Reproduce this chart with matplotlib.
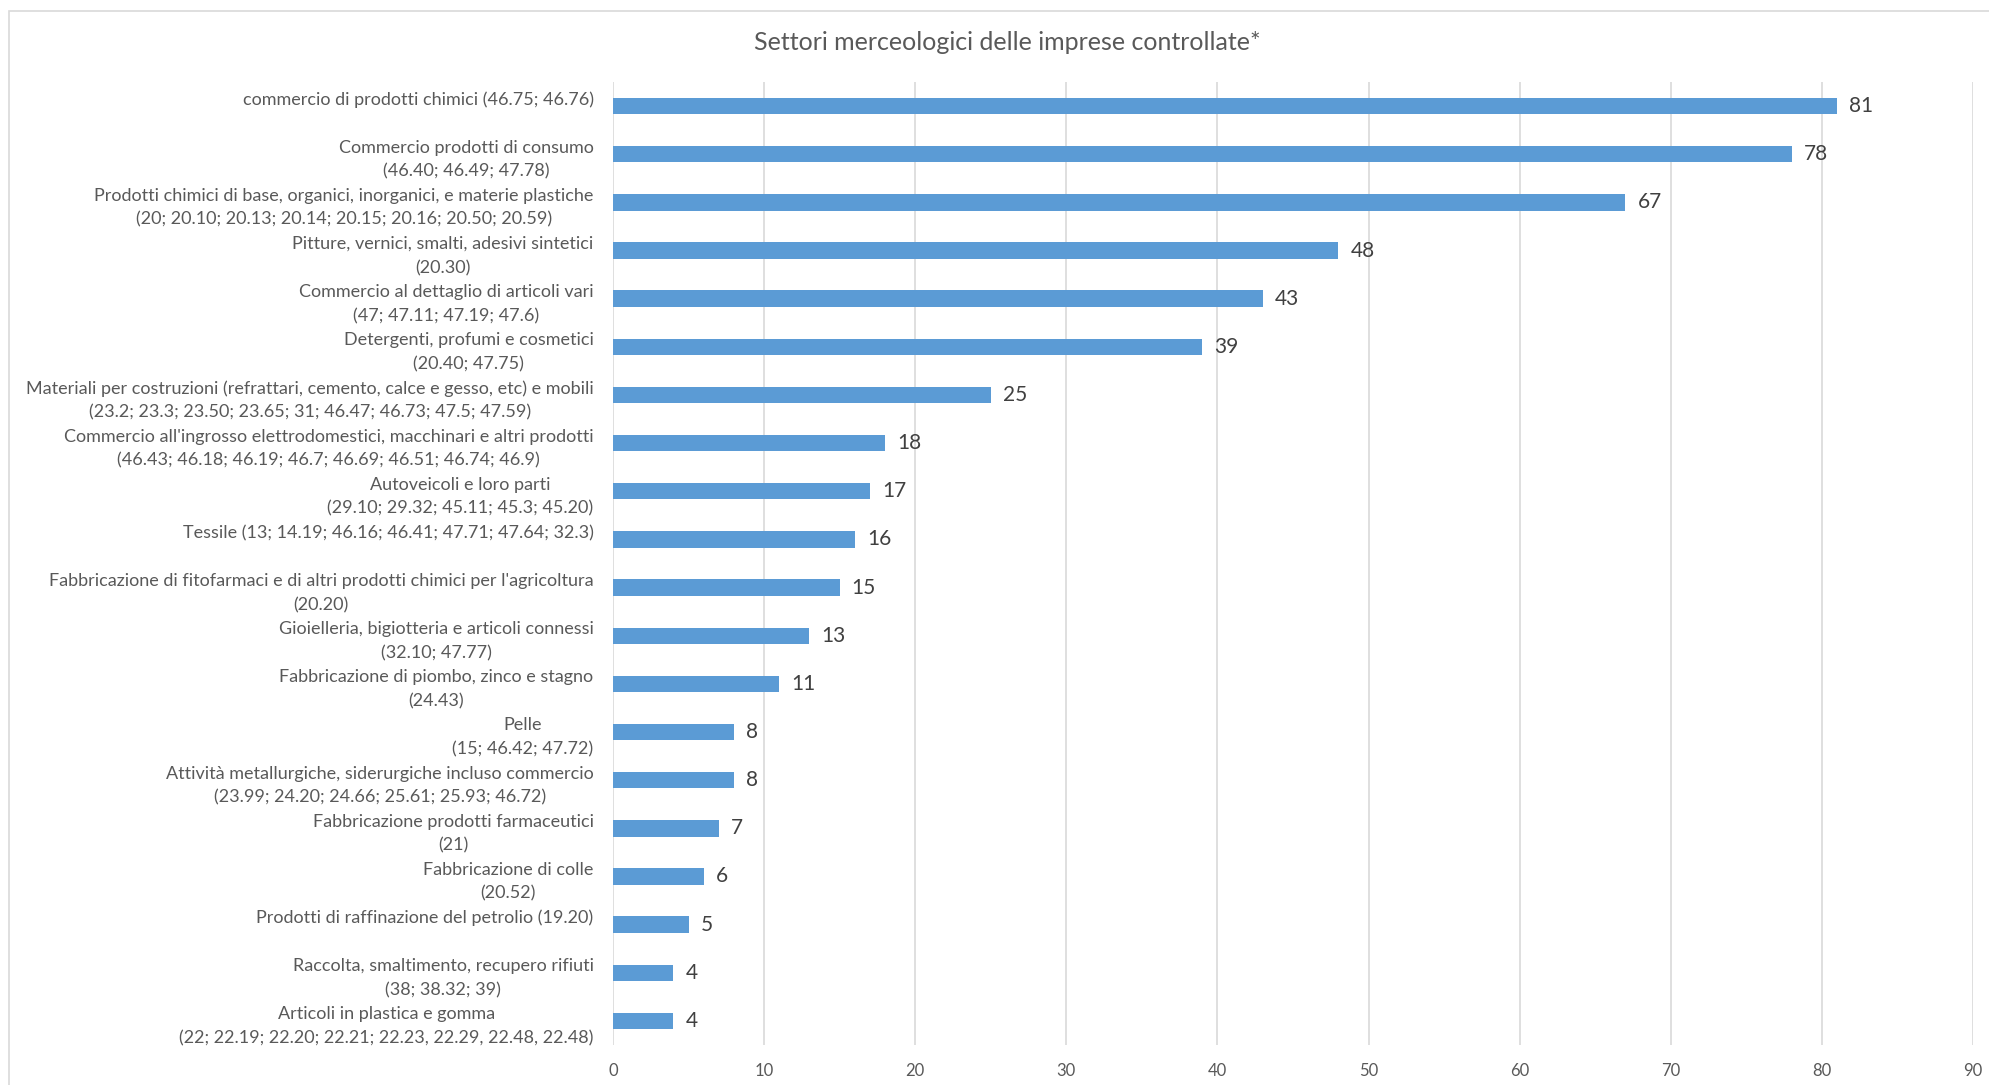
import matplotlib.pyplot as plt
from matplotlib.patches import Rectangle

plt.rcParams['font.family'] = ['Lato', 'DejaVu Sans']

categories = [
    "commercio di prodotti chimici (46.75; 46.76)\n ",
    "Commercio prodotti di consumo\n(46.40; 46.49; 47.78)",
    "Prodotti chimici di base, organici, inorganici, e materie plastiche\n(20; 20.10; 20.13; 20.14; 20.15; 20.16; 20.50; 20.59)",
    "Pitture, vernici, smalti, adesivi sintetici\n(20.30)",
    "Commercio al dettaglio di articoli vari\n(47; 47.11; 47.19; 47.6)",
    "Detergenti, profumi e cosmetici\n(20.40; 47.75)",
    "Materiali per costruzioni (refrattari, cemento, calce e gesso, etc) e mobili\n(23.2; 23.3; 23.50; 23.65; 31; 46.47; 46.73; 47.5; 47.59)",
    "Commercio all'ingrosso elettrodomestici, macchinari e altri prodotti\n(46.43; 46.18; 46.19; 46.7; 46.69; 46.51; 46.74; 46.9)",
    "Autoveicoli e loro parti\n(29.10; 29.32; 45.11; 45.3; 45.20)",
    "Tessile (13; 14.19; 46.16; 46.41; 47.71; 47.64; 32.3)\n ",
    "Fabbricazione di fitofarmaci e di altri prodotti chimici per l'agricoltura\n(20.20)",
    "Gioielleria, bigiotteria e articoli connessi\n(32.10; 47.77)",
    "Fabbricazione di piombo, zinco e stagno\n(24.43)",
    "Pelle\n(15; 46.42; 47.72)",
    "Attività metallurgiche, siderurgiche incluso commercio\n(23.99; 24.20; 24.66; 25.61; 25.93; 46.72)",
    "Fabbricazione prodotti farmaceutici\n(21)",
    "Fabbricazione di colle\n(20.52)",
    "Prodotti di raffinazione del petrolio (19.20)\n ",
    "Raccolta, smaltimento, recupero rifiuti\n(38; 38.32; 39)",
    "Articoli in plastica e gomma\n(22; 22.19; 22.20; 22.21; 22.23, 22.29, 22.48, 22.48)",
]
values = [81, 78, 67, 48, 43, 39, 25, 18, 17, 16, 15, 13, 11, 8, 8, 7, 6, 5, 4, 4]
xticks = [0, 10, 20, 30, 40, 50, 60, 70, 80, 90]

bar_color = '#5B9BD5'
text_gray = '#595959'

fig = plt.figure(figsize=(19.9, 10.85), dpi=100)
ax = fig.add_axes([613/1990, 1 - 1045/1085, (1973 - 613)/1990, (1045 - 82)/1085])

# outer chart frame
fig.patches.append(Rectangle((9/1990, -0.05), 1.1, 1 - 11/1085 + 0.05,
                             transform=fig.transFigure, fill=False,
                             edgecolor='#D9D9D9', lw=1.2))

pos = list(range(len(values)))
ax.barh(pos, values, height=0.34, color=bar_color, zorder=3)
for p, v in zip(pos, values):
    ax.text(v + 0.8, p, str(v), va='center', ha='left', fontsize=15,
            color='#404040')

ax.set_yticks(pos)
ax.set_yticklabels(categories, fontsize=13, color=text_gray,
                   multialignment='center', linespacing=1.6)
ax.set_ylim(len(values) - 0.5, -0.5)
ax.set_xlim(0, 90)
ax.set_xticks(xticks)
ax.set_xticklabels([str(t) for t in xticks], fontsize=12, color=text_gray)
ax.tick_params(axis='both', length=0)
ax.tick_params(axis='y', pad=14)
ax.tick_params(axis='x', pad=13)
ax.grid(axis='x', color='#D9D9D9', lw=1.2, zorder=0)
for s in ax.spines.values():
    s.set_visible(False)

fig.text(1007/1990, 1 - 43/1085, 'Settori merceologici delle imprese controllate*',
         ha='center', va='center', fontsize=18, color=text_gray)

fig.savefig('out.png', dpi=100)
